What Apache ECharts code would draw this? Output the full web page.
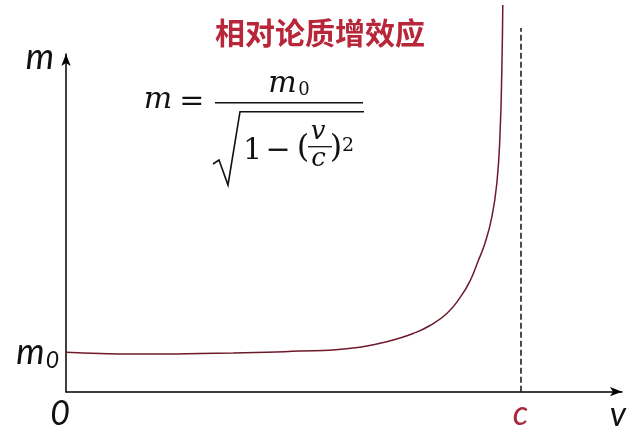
<!DOCTYPE html>
<html>
<head>
<meta charset="utf-8">
<script src="https://cdn.jsdelivr.net/npm/echarts@6/dist/echarts.min.js"></script>
<style>
html,body{margin:0;padding:0;background:#fff;}
#c{width:640px;height:442px;}
</style>
</head>
<body>
<div id="c"></div>
<script>
// Title and axis texts
const titleText = '相对论质增效应';
const xTickValues = [0, 1];          // v = 0 and v = c
const xTickLabels = ['0', 'c'];
const yTickValues = [1];             // m = m0
const yTickLabels = ['m0'];
const xName = 'v';
const yName = 'm';

// Curve: v (in units of c) and m (in units of m0)
const vValues = [0, 0.075, 0.147, 0.222, 0.295, 0.367, 0.442, 0.514, 0.587, 0.646, 0.690, 0.719, 0.763, 0.800, 0.837, 0.866, 0.888, 0.905, 0.921, 0.936, 0.947, 0.954, 0.958, 0.960];
const mValues = [1.00, 0.97, 0.957, 0.957, 0.97, 0.982, 1.00, 1.033, 1.058, 1.127, 1.228, 1.312, 1.477, 1.680, 1.985, 2.386, 2.810, 3.292, 3.774, 4.434, 5.297, 6.566, 8.241, 9.815];

// Asymptote v = c (dashed)
const asymV = [1, 1];
const asymM = [0, 9.23];

const curveData = vValues.map((v, i) => [v, mValues[i]]);
const asymData = asymV.map((v, i) => [v, asymM[i]]);

const chart = echarts.init(document.getElementById('c'), null, {renderer: 'canvas'});

const mathFont = '"DejaVu Serif"';
const labelFont = 'Lato';

function t(txt, x, y, font) {
  return {type: 'text', x: x, y: y, style: {text: txt, font: font, fill: '#111', align: 'center', verticalAlign: 'middle'}};
}

chart.setOption({
  animation: false,
  backgroundColor: '#ffffff',
  title: {
    text: titleText,
    left: 'center',
    top: 13,
    textStyle: {
      fontFamily: 'Noto Sans CJK SC',
      fontSize: 30,
      fontWeight: 'bold',
      color: '#b8263a'
    }
  },
  grid: {
    left: 66, right: 18, top: 54, bottom: 50.3,
    containLabel: false,
    outerBoundsMode: 'none'
  },
  xAxis: {
    type: 'value',
    min: 0,
    max: 1.222,
    name: xName,
    nameLocation: 'end',
    nameGap: -4,
    nameTextStyle: {
      fontFamily: labelFont, fontStyle: 'italic', fontSize: 34, color: '#111',
      align: 'center', verticalAlign: 'top', padding: [6, 0, 0, 0]
    },
    axisLine: {show: true, symbol: ['none', 'arrow'], symbolSize: [7, 12], lineStyle: {color: '#000', width: 1.5}},
    axisTick: {show: false},
    splitLine: {show: false},
    axisLabel: {
      customValues: xTickValues,
      margin: 5,
      formatter: function (val) {
        const idx = xTickValues.indexOf(val);
        const s = idx >= 0 ? xTickLabels[idx] : '';
        return s === 'c' ? '{c|' + s + '}' : '{z|' + s + '}';
      },
      rich: {
        z: {fontFamily: labelFont, fontStyle: 'italic', fontSize: 34, color: '#111', padding: [0, 12, 0, 0]},
        c: {fontFamily: labelFont, fontStyle: 'italic', fontSize: 34, color: '#a8283c', padding: [0, 1, 0, 0]}
      }
    }
  },
  yAxis: {
    type: 'value',
    min: 0,
    max: 8.57,
    name: yName,
    nameLocation: 'end',
    nameGap: -3,
    nameTextStyle: {
      fontFamily: labelFont, fontStyle: 'italic', fontSize: 36, color: '#111',
      align: 'right', verticalAlign: 'middle', padding: [0, 12, 0, 0]
    },
    axisLine: {show: true, symbol: ['none', 'arrow'], symbolSize: [7, 12], lineStyle: {color: '#000', width: 1.5}},
    axisTick: {show: false},
    splitLine: {show: false},
    axisLabel: {
      customValues: yTickValues,
      margin: 7,
      formatter: function (val) {
        const idx = yTickValues.indexOf(val);
        const s = idx >= 0 ? yTickLabels[idx] : '';
        return '{m|' + s.charAt(0) + '}{s|' + s.slice(1) + '}';
      },
      rich: {
        m: {fontFamily: labelFont, fontStyle: 'italic', fontSize: 36, color: '#111'},
        s: {fontFamily: labelFont, fontStyle: 'italic', fontSize: 23, color: '#111', padding: [16, 0, 0, 1]}
      }
    }
  },
  series: [
    {
      type: 'line',
      data: curveData,
      smooth: 0.5,
      clip: false,
      showSymbol: false,
      symbol: 'none',
      lineStyle: {color: '#6e1a2a', width: 1.5}
    },
    {
      type: 'line',
      data: asymData,
      clip: false,
      showSymbol: false,
      symbol: 'none',
      lineStyle: {color: '#111', width: 1.5, type: [6, 3]}
    }
  ],
  graphic: [
    // formula  m = m0 / sqrt(1 - (v/c)^2)
    t('m', 158, 100.5, 'italic 30px ' + mathFont),
    t('=', 191.7, 102, '30px ' + mathFont),
    {type: 'line', shape: {x1: 215, y1: 102.7, x2: 363, y2: 102.7}, style: {stroke: '#111', lineWidth: 1.6}},
    t('m', 282.5, 84, 'italic 30px ' + mathFont),
    t('0', 304, 90, '18px ' + mathFont),
    {type: 'polyline', shape: {points: [[213, 164], [219, 160], [228, 185], [240, 111.7], [364, 111.7]]}, style: {stroke: '#111', lineWidth: 1.6, fill: null}},
    t('1', 252.5, 151, '30px ' + mathFont),
    t('−', 278, 151.7, '30px ' + mathFont),
    t('(', 303, 149, '32px ' + mathFont),
    t('v', 318, 132, 'italic 26px ' + mathFont),
    {type: 'line', shape: {x1: 308, y1: 146.7, x2: 332, y2: 146.7}, style: {stroke: '#111', lineWidth: 1.3}},
    t('c', 318.5, 159.6, 'italic 26px ' + mathFont),
    t(')', 336, 149, '32px ' + mathFont),
    t('2', 348, 146.5, '19px ' + mathFont)
  ]
});
</script>
</body>
</html>
